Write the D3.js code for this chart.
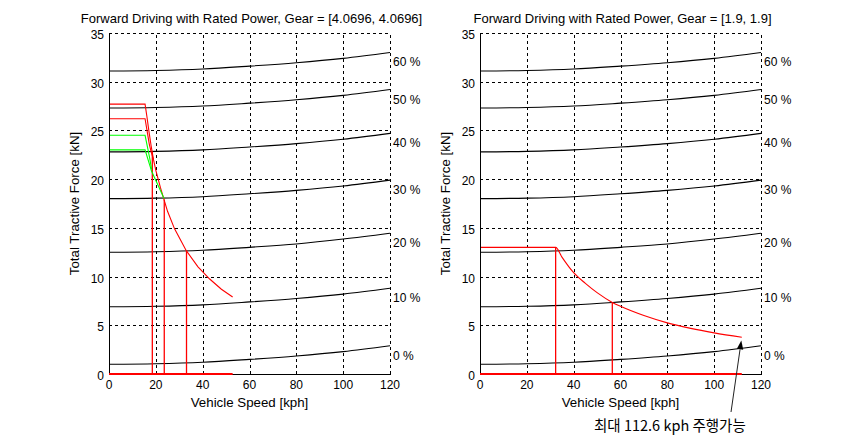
<!DOCTYPE html>
<html><head><meta charset="utf-8">
<script src="https://cdn.jsdelivr.net/npm/d3@7"></script>
<style>
body{margin:0;background:#fff;}
text{font-family:"Liberation Sans",Arial,sans-serif;fill:#000;}
</style></head>
<body><svg id="c" width="842" height="441"></svg>
<script>
// ---- data ----
const xTicks = [0,20,40,60,80,100,120];
const yTicks = [0,5,10,15,20,25,30,35];
const gradeSpeeds = [0,20,40,60,80,100,120];
const gradeLabels = ["0 %","10 %","20 %","30 %","40 %","50 %","60 %"];
const grade0  = [1.0,1.05,1.2,1.5,1.85,2.3,2.9];
const grade10 = [6.9,6.95,7.1,7.4,7.75,8.2,8.8];
const grade20 = [12.5,12.55,12.7,13.0,13.35,13.85,14.45];
const grade30 = [18.0,18.05,18.2,18.5,18.85,19.3,19.9];
const grade40 = [22.8,22.85,23.0,23.3,23.65,24.1,24.7];
const grade50 = [27.3,27.35,27.5,27.8,28.15,28.6,29.2];
const grade60 = [31.1,31.15,31.3,31.6,31.95,32.4,33.0];
const grades = [grade0,grade10,grade20,grade30,grade40,grade50,grade60];

const titles = ["Forward Driving with Rated Power, Gear = [4.0696, 4.0696]",
                "Forward Driving with Rated Power, Gear = [1.9, 1.9]"];

// left (gear 4.0696)
const leftMainSpeed = [0,15.4,16.2,17,18,19,20,22,25,28,33,38,43,48,52.8];
const leftMainForce = [27.7,27.7,26.4,25.0,23.4,22.0,20.9,19.1,16.7,14.9,12.66,11.0,9.75,8.7,7.9];
const leftBSpeed = [0,15.4,16.3,17.2,18,19];
const leftBForce = [26.2,26.2,24.9,23.6,22.8,22.0];
const leftG1Speed = [0,15.4,16.5,17.5,18.2];
const leftG1Force = [24.5,24.5,23.2,22.0,21.0];
const leftG2Speed = [0,15.4,18.2,22.5,23.5];
const leftG2Force = [23.0,23.0,20.8,18.55,18.0];
const leftVertSpeed = [18.5,23.6,33.1];
const leftVertForce = [22.8,17.9,12.66];
const leftMaxSpeed = 52.8;

// right (gear 1.9)
const rightMainSpeed = [0,32.3,35,40,45,50,56.5,60,70,80,90,100,111.8];
const rightMainForce = [13.0,13.0,12.0,10.4,9.3,8.35,7.35,6.95,6.0,5.25,4.68,4.22,3.77];
const rightVertSpeed = [32.3,56.5];
const rightVertForce = [13.0,7.3];
const rightMaxSpeed = 111.8;

const noteText = "최대 112.6 kph 주행가능";

// ---- drawing ----
const svg = d3.select("#c");
const yS = d3.scaleLinear().domain([0,35]).range([374,33]);
const panels = [
  {x: d3.scaleLinear().domain([0,120]).range([109,390]), title: titles[0], ylabX: 79,
   red: [[leftMainSpeed,leftMainForce],[leftBSpeed,leftBForce]],
   green: [[leftG1Speed,leftG1Force],[leftG2Speed,leftG2Force]],
   vs: leftVertSpeed, vf: leftVertForce, max: leftMaxSpeed, smooth:false},
  {x: d3.scaleLinear().domain([0,120]).range([480,761]), title: titles[1], ylabX: 450,
   red: [[rightMainSpeed,rightMainForce]], green: [],
   vs: rightVertSpeed, vf: rightVertForce, max: rightMaxSpeed, smooth:true}
];

panels.forEach((p,pi)=>{
  const g = svg.append("g");
  const xS = p.x;
  // grid
  xTicks.filter(t=>t>0).forEach(t=>{
    g.append("line").attr("x1",xS(t)+0.5).attr("x2",xS(t)+0.5).attr("y1",yS(0)).attr("y2",yS(35))
     .attr("stroke","#000").attr("stroke-width",1).attr("stroke-dasharray","3,3").attr("shape-rendering","crispEdges");
  });
  yTicks.filter(t=>t>0).forEach(t=>{
    g.append("line").attr("x1",xS(0)).attr("x2",xS(120)).attr("y1",yS(t)+0.5).attr("y2",yS(t)+0.5)
     .attr("stroke","#000").attr("stroke-width",1).attr("stroke-dasharray","3,3").attr("shape-rendering","crispEdges");
  });
  // grade lines
  const gl = d3.line().x(d=>xS(d[0])).y(d=>yS(d[1])).curve(d3.curveMonotoneX);
  grades.forEach((arr,i)=>{
    const pts = gradeSpeeds.map((s,j)=>[s,arr[j]]);
    g.append("path").attr("d",gl(pts)).attr("fill","none").attr("stroke","#000").attr("stroke-width",1.1);
    g.append("text").attr("x",xS(120)+3).attr("y",yS(arr[arr.length-1])+14)
     .attr("font-size","12px").text(gradeLabels[i]);
  });
  const ll = d3.line().x(d=>xS(d[0])).y(d=>yS(d[1]));
  if(p.smooth) ll.curve(d3.curveMonotoneX);
  // red curves
  p.red.forEach(([s,f])=>{
    g.append("path").attr("d",ll(s.map((v,j)=>[v,f[j]]))).attr("fill","none").attr("stroke","#ff0000").attr("stroke-width",1.1);
  });
  p.vs.forEach((s,j)=>{
    g.append("line").attr("x1",xS(s)).attr("x2",xS(s)).attr("y1",yS(0)).attr("y2",yS(p.vf[j]))
     .attr("stroke","#ff0000").attr("stroke-width",1.3);
  });
  p.green.forEach(([s,f])=>{
    g.append("path").attr("d",ll(s.map((v,j)=>[v,f[j]]))).attr("fill","none").attr("stroke","#00ff00").attr("stroke-width",1.1);
  });
  // axes
  g.append("line").attr("x1",xS(0)+0.5).attr("x2",xS(0)+0.5).attr("y1",yS(0)).attr("y2",yS(35))
   .attr("stroke","#000").attr("shape-rendering","crispEdges");
  g.append("line").attr("x1",xS(0)).attr("x2",xS(120)+1).attr("y1",yS(0)+0.5).attr("y2",yS(0)+0.5)
   .attr("stroke","#000").attr("shape-rendering","crispEdges");
  // red max-speed line along axis
  g.append("line").attr("x1",xS(0)).attr("x2",xS(p.max)).attr("y1",yS(0)).attr("y2",yS(0))
   .attr("stroke","#ff0000").attr("stroke-width",2);
  // tick labels
  xTicks.forEach(t=>{
    g.append("text").attr("x",xS(t)).attr("y",389).attr("text-anchor","middle").attr("font-size","12px").text(t);
  });
  yTicks.forEach(t=>{
    g.append("text").attr("x",xS(0)-5).attr("y",yS(t)+6).attr("text-anchor","end").attr("font-size","12px").text(t);
  });
  // labels
  g.append("text").attr("x",(xS(0)+xS(120))/2+2).attr("y",23).attr("text-anchor","middle").attr("font-size","13px").text(p.title);
  g.append("text").attr("x",(xS(0)+xS(120))/2).attr("y",407).attr("text-anchor","middle").attr("font-size","13.3px").text("Vehicle Speed [kph]");
  g.append("text").attr("transform",`translate(${p.ylabX},${(yS(0)+yS(35))/2}) rotate(-90)`)
   .attr("text-anchor","middle").attr("font-size","13.3px").text("Total Tractive Force [kN]");

  if(pi===1){
    // annotation arrow
    const tx = xS(111.6), ty = yS(3.45);
    const sx = xS(107.2), sy = yS(-3.9);
    const ang = Math.atan2(ty-sy, tx-sx);
    const L = 9, W = 3.2;
    const bx = tx - L*Math.cos(ang), by = ty - L*Math.sin(ang);
    g.append("line").attr("x1",sx).attr("y1",sy).attr("x2",bx).attr("y2",by).attr("stroke","#222").attr("stroke-width",1);
    g.append("path").attr("d",`M${tx},${ty}L${bx+W*Math.sin(ang)},${by-W*Math.cos(ang)}L${bx-W*Math.sin(ang)},${by+W*Math.cos(ang)}Z`)
     .attr("fill","#000");
    g.append("text").attr("x",xS(81.1)).attr("y",431).attr("text-anchor","middle")
     .style("font-family","'Noto Sans CJK KR',sans-serif").attr("font-size","14.5px").text(noteText);
  }
});
</script></body></html>
